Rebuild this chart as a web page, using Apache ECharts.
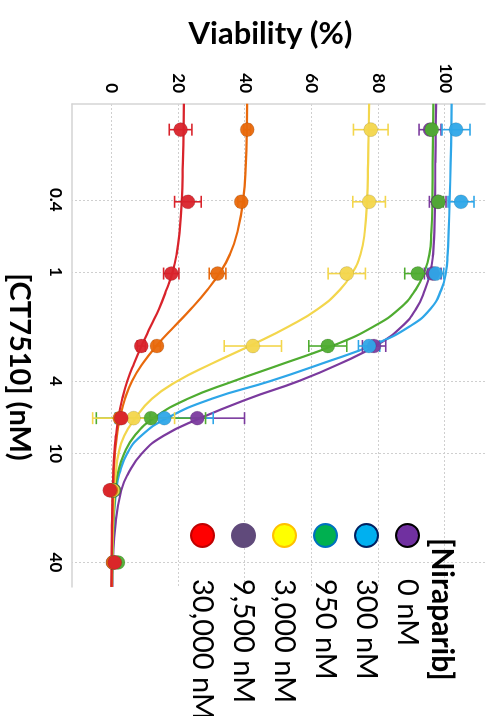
<!DOCTYPE html>
<html>
<head>
<meta charset="utf-8">
<script src="https://cdn.jsdelivr.net/npm/echarts@6/dist/echarts.min.js"></script>
<style>
  html, body { margin: 0; padding: 0; background: #fff; overflow: hidden; }
  #wrap { position: relative; width: 486px; height: 716px; overflow: hidden; }
  /* chart is drawn upright (716x486) and turned a quarter turn clockwise */
  #chart {
    position: absolute; left: 0; top: 0; width: 716px; height: 486px;
    transform-origin: 0 0; transform: translate(486px, 0) rotate(90deg);
  }
</style>
</head>
<body>
<div id="wrap"><div id="chart"></div></div>
<script>
// axis ticks
const concTicks = [0.4, 1, 4, 10, 40];
const viabTicks = [0, 20, 40, 60, 80, 100];

// niraparib doses (legend order)
const doseNames = ['0 nM', '300 nM', '950 nM', '3,000 nM', '9,500 nM', '30,000 nM'];

// measured points, CT7510 concentration (nM)
const doseConc = [0.164, 0.41, 1.02, 2.56, 6.4, 16, 40];
const mean0 = [95.5, 97.8, 96.3, 78.7, 25.6, 0.6, 0.3];
const err0 = [3.3, 2.5, 2.5, 3.5, 14.2, 0.5, 0.5];
const mean300 = [103.3, 104.8, 97.2, 77.2, 15.7, 0.4, 0.6];
const err300 = [4.2, 3.9, 2.4, 3.2, 14.7, 0.5, 0.5];
const mean950 = [96.0, 98.0, 91.8, 64.8, 11.7, 0.5, 1.8];
const err950 = [1.0, 1.5, 3.9, 5.7, 16.4, 0.5, 0.5];
const mean3000 = [77.7, 77.2, 70.5, 42.3, 6.5, 0.2, 0.5];
const err3000 = [5.2, 4.9, 5.6, 8.6, 12.3, 0.5, 0.5];
const mean9500 = [40.6, 38.8, 31.7, 13.5, 2.3, -0.3, 0.3];
const err9500 = [1.0, 1.0, 2.5, 1.0, 1.0, 0.5, 0.5];
const mean30000 = [20.6, 22.8, 17.8, 8.8, 2.8, -0.7, 0.8];
const err30000 = [3.4, 4.0, 2.3, 1.2, 1.0, 0.5, 0.5];

// fitted curves
const fitConc = [0.118, 0.16, 0.25, 0.4, 0.6, 0.8, 1, 1.25, 1.6, 2, 2.5, 3.2, 4, 5, 6.4, 8, 10, 13, 16, 25, 40, 54.6];
const fit0 = [97.3, 97.2, 97.1, 97, 96.8, 96.4, 95.6, 94, 91.3, 87, 80, 68.5, 56, 41, 26.5, 15.5, 9, 4.8, 2.8, 1, 0.3, 0.1];
const fit300 = [102, 101.9, 101.7, 101.4, 101.1, 100.8, 100.3, 98.9, 95.6, 89.3, 79, 63, 47.5, 30, 16.5, 8.8, 4.6, 2.2, 1.3, 0.4, 0.1, 0];
const fit950 = [96.5, 96.4, 96.3, 96.2, 95.9, 95.3, 93.8, 91.2, 86.2, 78.5, 67.5, 51.5, 36.5, 22.8, 12.5, 6.8, 3.7, 1.7, 1.0, 0.4, 0.1, 0];
const fit3000 = [77.2, 77.1, 76.9, 76.6, 75.9, 74.6, 72.3, 68.5, 61.8, 53, 42.5, 30, 19.6, 12, 7, 3.7, 2.0, 1.1, 0.7, 0.3, 0.1, 0];
const fit9500 = [40.6, 40.5, 40.2, 39.4, 37.7, 35.4, 32.5, 28.7, 23.7, 18.7, 13.8, 9.2, 6.0, 3.9, 2.4, 1.5, 0.9, 0.5, 0.3, 0.1, 0, 0];
const fit30000 = [21.6, 21.5, 21.3, 21, 20.3, 19.4, 18.2, 16.4, 14.1, 11.6, 9.1, 6.6, 4.6, 3.1, 1.9, 1.2, 0.7, 0.4, 0.2, 0, -0.1, -0.2];

const means = [mean0, mean300, mean950, mean3000, mean9500, mean30000];
const errs = [err0, err300, err950, err3000, err9500, err30000];
const fits = [fit0, fit300, fit950, fit3000, fit9500, fit30000];

// colours
const seriesColors = ['#7b3a9e', '#2ea6e8', '#4fac31', '#f3d64c', '#e8690c', '#d9232b'];
const legendFill = ['#7030a0', '#00b0f0', '#00b050', '#ffff00', '#604a7b', '#ff0000'];
const legendBorder = ['#000000', '#002060', '#0070c0', '#ffc000', '#604a7b', '#c00000'];

const FONT = 'Lato';
const lg = (v) => Math.log10(v);

function errorBar(params, api) {
  const x = api.value(0);
  const p1 = api.coord([x, api.value(1)]);
  const p2 = api.coord([x, api.value(2)]);
  const w = 6;
  const style = { stroke: api.visual('color'), lineWidth: 1.6 };
  return {
    type: 'group',
    children: [
      { type: 'line', shape: { x1: p1[0], y1: p1[1], x2: p2[0], y2: p2[1] }, style: style },
      { type: 'line', shape: { x1: p1[0] - w, y1: p1[1], x2: p1[0] + w, y2: p1[1] }, style: style },
      { type: 'line', shape: { x1: p2[0] - w, y1: p2[1], x2: p2[0] + w, y2: p2[1] }, style: style }
    ]
  };
}

const series = [];
doseNames.forEach((name, i) => {
  series.push({
    name: name,
    type: 'line',
    data: fitConc.map((c, k) => [lg(c), fits[i][k]]),
    showSymbol: false,
    smooth: 0.5,
    lineStyle: { color: seriesColors[i], width: 2.2 },
    itemStyle: { color: seriesColors[i] },
    z: 2,
    silent: true
  });
});
doseNames.forEach((name, i) => {
  series.push({
    name: name,
    type: 'custom',
    renderItem: errorBar,
    data: doseConc.map((c, k) => [lg(c), means[i][k] - errs[i][k], means[i][k] + errs[i][k]]),
    itemStyle: { color: seriesColors[i], opacity: 0.85 },
    z: 3,
    silent: true
  });
});
doseNames.forEach((name, i) => {
  series.push({
    name: name,
    type: 'scatter',
    data: doseConc.map((c, k) => [lg(c), means[i][k]]),
    symbolSize: 14,
    itemStyle: { color: seriesColors[i], borderColor: 'rgba(0,0,0,0.12)', borderWidth: 1, opacity: 0.95 },
    z: 4,
    silent: true
  });
});

const gridLine = { show: true, lineStyle: { color: '#cfcfcf', type: [2, 2], width: 1 } };
const axisLn = { show: true, onZero: false, lineStyle: { color: '#d4d4d4', width: 1.5 } };

const chart = echarts.init(document.getElementById('chart'));
chart.setOption({
  animation: false,
  backgroundColor: '#fff',
  title: {
    text: '[Niraparib]',
    left: 538,
    top: 29,
    padding: 0,
    textStyle: { fontFamily: FONT, fontSize: 30, fontWeight: 'bold', color: '#000', lineHeight: 30 }
  },
  legend: {
    orient: 'vertical',
    left: 518,
    top: 59,
    itemWidth: 23,
    itemHeight: 23,
    itemGap: 12,
    selectedMode: false,
    textStyle: { fontFamily: FONT, fontSize: 29, color: '#000', lineHeight: 23, padding: [0, 0, 0, 27] },
    data: doseNames.map((n, i) => ({
      name: n,
      icon: 'circle',
      itemStyle: { color: legendFill[i], borderColor: legendBorder[i], borderWidth: 2 }
    }))
  },
  grid: { left: 104, right: 129, top: 1, bottom: 68 },
  xAxis: {
    type: 'value',
    min: (104 - 272) / 181.3,
    max: (587 - 272) / 181.3,
    axisLine: axisLn,
    axisTick: { show: false, customValues: concTicks.map(lg) },
    splitLine: gridLine,
    axisLabel: {
      customValues: concTicks.map(lg),
      formatter: (v) => concTicks[concTicks.map(lg).findIndex((t) => Math.abs(t - v) < 1e-6)],
      fontFamily: FONT, fontSize: 17, fontWeight: 'bold', color: '#000', margin: 8
    },
    name: '[CT7510] (nM)',
    nameLocation: 'middle',
    nameGap: 38,
    nameTextStyle: { fontFamily: FONT, fontSize: 29, fontWeight: 'bold', color: '#000', padding: [0, 0, 0, 43] }
  },
  yAxis: {
    type: 'value',
    min: -12,
    max: 112,
    axisLine: axisLn,
    axisTick: { show: false, customValues: viabTicks },
    splitLine: gridLine,
    axisLabel: {
      customValues: viabTicks,
      fontFamily: FONT, fontSize: 17, fontWeight: 'bold', color: '#000', margin: 11
    },
    name: 'Viability (%)',
    nameLocation: 'middle',
    nameRotate: 90,
    nameGap: 55,
    nameTextStyle: { fontFamily: FONT, fontSize: 31, fontWeight: 'bold', color: '#000', padding: [0, 16, 0, 0] }
  },
  series: series
});
</script>
</body>
</html>
